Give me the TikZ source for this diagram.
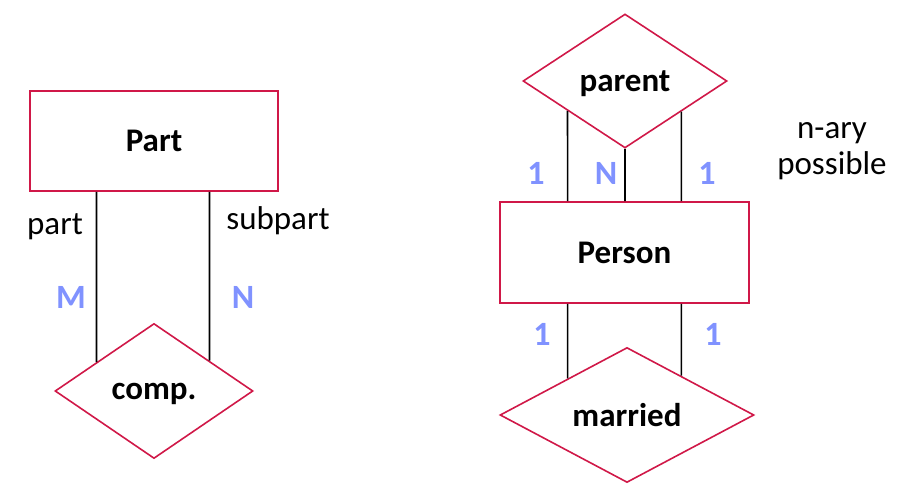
\documentclass[tikz,border=0pt]{standalone}
\usepackage{fontspec}
\setmainfont{Carlito}
\usetikzlibrary{shapes.geometric,calc}
\definecolor{erred}{RGB}{208,24,72}
\definecolor{erblue}{RGB}{128,146,255}
\begin{document}
\begin{tikzpicture}[x=1pt,y=-1pt,
  entity/.style={draw=erred,line width=1.8pt,rectangle,inner sep=0pt,font=\fontsize{33}{40}\selectfont\bfseries},
  relation/.style={draw=erred,line width=1.6pt,diamond,inner sep=0pt,font=\fontsize{33}{40}\selectfont\bfseries},
  conn/.style={draw=black,line width=1.6pt},
  card/.style={text=erblue,font=\fontsize{34}{40}\selectfont\bfseries,inner sep=0pt},
  lbl/.style={font=\fontsize{33}{40}\selectfont,inner sep=0pt,align=center}]
\useasboundingbox (0,0) rectangle (921,489);
% left diagram
\node[entity,minimum width=248pt,minimum height=100pt] (part) at (154,141) {Part};
\node[relation,minimum width=198pt,minimum height=135pt,text depth=0pt] (comp) at (154,391) {comp.};
\draw[conn] ($(part.south west)!0.27!(part.south east)$) -- ($(comp.west)!0.424!(comp.north)$);
\draw[conn] ($(part.south west)!0.722!(part.south east)$) -- ($(comp.north)!0.556!(comp.east)$);
\node[lbl] (lpart) at (55,227) {part};
\node[lbl] (lsub) at (278,221) {subpart};
\node[card] (cm) at (71,297) {M};
\node[card] (cn) at (243,297) {N};
% right diagram
\node[relation,minimum width=204pt,minimum height=134pt,text depth=0pt] (parent) at (625,81) {parent};
\node[entity,minimum width=249pt,minimum height=101pt] (person) at (624.5,252.5) {Person};
\node[relation,minimum width=254pt,minimum height=135pt] (married) at (627,415) {married};
\draw[conn] ($(parent.west)!0.441!(parent.south)$) -- ($(person.north west)!0.273!(person.north east)$);
\draw[conn] (parent.south) -- ($(person.north west)!0.502!(person.north east)$);
\draw[conn] ($(parent.south)!0.549!(parent.east)$) -- ($(person.north west)!0.727!(person.north east)$);
\draw[conn] ($(person.south west)!0.273!(person.south east)$) -- ($(married.west)!0.535!(married.north)$);
\draw[conn] ($(person.south west)!0.727!(person.south east)$) -- ($(married.north)!0.425!(married.east)$);
\node[card] (c1) at (536,173) {1};
\node[card] (c2) at (606,173) {N};
\node[card] (c3) at (707,173) {1};
\node[card] (c4) at (542,334) {1};
\node[card] (c5) at (713,334) {1};
\node[lbl] (nary) at (832,151) {n-ary\\[-4pt]possible};
\end{tikzpicture}
\end{document}
